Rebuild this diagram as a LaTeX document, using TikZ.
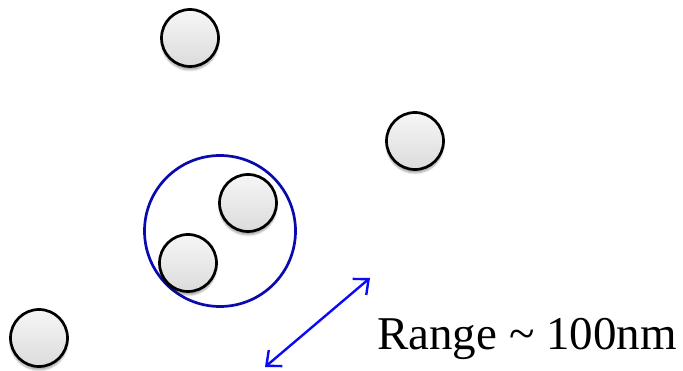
\documentclass[tikz,border=0pt]{standalone}
\usepackage{fontspec}
\setmainfont{Liberation Serif}
\usetikzlibrary{arrows.meta,shadows.blur}
\definecolor{ringblue}{RGB}{10,10,175}
\definecolor{arrowblue}{RGB}{10,10,250}
\tikzset{
  particle/.style={circle, draw=black, line width=2.7pt, inner sep=0pt,
    minimum size=57pt, top color=gray!7, bottom color=gray!28,
    blur shadow={shadow xshift=0pt, shadow yshift=-3.5pt, shadow blur steps=6, shadow opacity=35}},
  ring/.style={circle, draw=ringblue, line width=2.7pt, inner sep=0pt, minimum size=151pt},
  rangearrow/.style={arrowblue, line width=2.4pt, {Straight Barb[length=12pt,width=21pt]}-{Straight Barb[length=12pt,width=21pt]}},
  caption/.style={font=\fontsize{47}{50}\selectfont, inner sep=0pt, anchor=base west}
}
\begin{document}
\begin{tikzpicture}[x=1pt,y=-1pt]
  \useasboundingbox (0,0) rectangle (683,371);
  % scattered particles
  \node[particle] (p1) at (190,38) {};
  \node[particle] (p2) at (415,141) {};
  \node[particle] (p3) at (39,338) {};
  % the close pair and the ring around it
  \node[ring] (r) at (220,231) {};
  \node[particle] (p4) at (248,203) {};
  \node[particle] (p5) at (188,263) {};
  % interaction range marker
  \coordinate (a1) at (265,367);
  \coordinate (a2) at (370,278);
  \draw[rangearrow] (a1) -- (a2);
  \node[caption] (t) at (377,350) {Range \textasciitilde{} 100nm};
\end{tikzpicture}
\end{document}
